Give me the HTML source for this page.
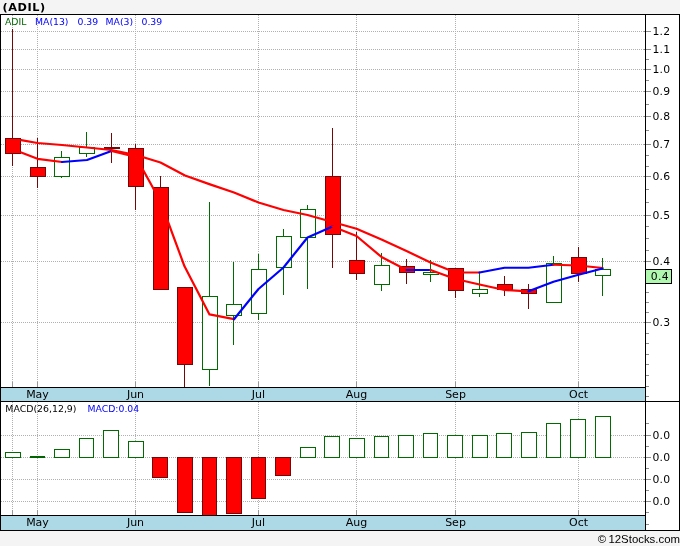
<!DOCTYPE html>
<html><head><meta charset="utf-8"><title>ADIL</title>
<style>html,body{margin:0;padding:0;background:#f4f4f4;}body{width:680px;height:546px;overflow:hidden}</style>
</head><body>
<svg width="680" height="546" viewBox="0 0 680 546" style="display:block">
<rect x="0" y="0" width="680" height="546" fill="#f4f4f4"/>
<rect x="0" y="14" width="680" height="517" fill="#000"/>
<rect x="1" y="15" width="678" height="515" fill="#fff"/>
<g shape-rendering="crispEdges">
<line x1="1" y1="31.5" x2="645" y2="31.5" stroke="#b0b0b0" stroke-width="1" stroke-dasharray="1 1"/>
<line x1="1" y1="49.5" x2="645" y2="49.5" stroke="#b0b0b0" stroke-width="1" stroke-dasharray="1 1"/>
<line x1="1" y1="69.5" x2="645" y2="69.5" stroke="#b0b0b0" stroke-width="1" stroke-dasharray="1 1"/>
<line x1="1" y1="91.5" x2="645" y2="91.5" stroke="#b0b0b0" stroke-width="1" stroke-dasharray="1 1"/>
<line x1="1" y1="116.5" x2="645" y2="116.5" stroke="#b0b0b0" stroke-width="1" stroke-dasharray="1 1"/>
<line x1="1" y1="144.5" x2="645" y2="144.5" stroke="#b0b0b0" stroke-width="1" stroke-dasharray="1 1"/>
<line x1="1" y1="176.5" x2="645" y2="176.5" stroke="#b0b0b0" stroke-width="1" stroke-dasharray="1 1"/>
<line x1="1" y1="215.5" x2="645" y2="215.5" stroke="#b0b0b0" stroke-width="1" stroke-dasharray="1 1"/>
<line x1="1" y1="261.5" x2="645" y2="261.5" stroke="#b0b0b0" stroke-width="1" stroke-dasharray="1 1"/>
<line x1="1" y1="322.5" x2="645" y2="322.5" stroke="#b0b0b0" stroke-width="1" stroke-dasharray="1 1"/>
<line x1="12.5" y1="15" x2="12.5" y2="387" stroke="#b0b0b0" stroke-width="1" stroke-dasharray="1 1"/>
<line x1="37.5" y1="15" x2="37.5" y2="387" stroke="#b0b0b0" stroke-width="1" stroke-dasharray="1 1"/>
<line x1="135.5" y1="15" x2="135.5" y2="387" stroke="#b0b0b0" stroke-width="1" stroke-dasharray="1 1"/>
<line x1="258.5" y1="15" x2="258.5" y2="387" stroke="#b0b0b0" stroke-width="1" stroke-dasharray="1 1"/>
<line x1="356.5" y1="15" x2="356.5" y2="387" stroke="#b0b0b0" stroke-width="1" stroke-dasharray="1 1"/>
<line x1="455.5" y1="15" x2="455.5" y2="387" stroke="#b0b0b0" stroke-width="1" stroke-dasharray="1 1"/>
<line x1="578.5" y1="15" x2="578.5" y2="387" stroke="#b0b0b0" stroke-width="1" stroke-dasharray="1 1"/>
<line x1="1" y1="435.5" x2="645" y2="435.5" stroke="#b0b0b0" stroke-width="1" stroke-dasharray="1 1"/>
<line x1="1" y1="457.5" x2="645" y2="457.5" stroke="#b0b0b0" stroke-width="1" stroke-dasharray="1 1"/>
<line x1="1" y1="479.5" x2="645" y2="479.5" stroke="#b0b0b0" stroke-width="1" stroke-dasharray="1 1"/>
<line x1="1" y1="501.5" x2="645" y2="501.5" stroke="#b0b0b0" stroke-width="1" stroke-dasharray="1 1"/>
<line x1="12.5" y1="402" x2="12.5" y2="515" stroke="#b0b0b0" stroke-width="1" stroke-dasharray="1 1"/>
<line x1="37.5" y1="402" x2="37.5" y2="515" stroke="#b0b0b0" stroke-width="1" stroke-dasharray="1 1"/>
<line x1="135.5" y1="402" x2="135.5" y2="515" stroke="#b0b0b0" stroke-width="1" stroke-dasharray="1 1"/>
<line x1="258.5" y1="402" x2="258.5" y2="515" stroke="#b0b0b0" stroke-width="1" stroke-dasharray="1 1"/>
<line x1="356.5" y1="402" x2="356.5" y2="515" stroke="#b0b0b0" stroke-width="1" stroke-dasharray="1 1"/>
<line x1="455.5" y1="402" x2="455.5" y2="515" stroke="#b0b0b0" stroke-width="1" stroke-dasharray="1 1"/>
<line x1="578.5" y1="402" x2="578.5" y2="515" stroke="#b0b0b0" stroke-width="1" stroke-dasharray="1 1"/>
<rect x="1" y="387" width="644" height="1" fill="#000"/>
<rect x="1" y="388" width="644" height="13" fill="#add8e6"/>
<rect x="1" y="401" width="678" height="1" fill="#000"/>
<rect x="1" y="515" width="644" height="1" fill="#000"/>
<rect x="1" y="516" width="644" height="14" fill="#add8e6"/>
<rect x="12" y="382" width="1" height="5" fill="#989898"/>
<rect x="12" y="510" width="1" height="5" fill="#989898"/>
<rect x="37" y="382" width="1" height="5" fill="#989898"/>
<rect x="37" y="510" width="1" height="5" fill="#989898"/>
<rect x="135" y="382" width="1" height="5" fill="#989898"/>
<rect x="135" y="510" width="1" height="5" fill="#989898"/>
<rect x="258" y="382" width="1" height="5" fill="#989898"/>
<rect x="258" y="510" width="1" height="5" fill="#989898"/>
<rect x="356" y="382" width="1" height="5" fill="#989898"/>
<rect x="356" y="510" width="1" height="5" fill="#989898"/>
<rect x="455" y="382" width="1" height="5" fill="#989898"/>
<rect x="455" y="510" width="1" height="5" fill="#989898"/>
<rect x="578" y="382" width="1" height="5" fill="#989898"/>
<rect x="578" y="510" width="1" height="5" fill="#989898"/>
<rect x="644" y="31" width="7" height="1" fill="#8c8c8c"/>
<rect x="644" y="49" width="7" height="1" fill="#8c8c8c"/>
<rect x="644" y="69" width="7" height="1" fill="#8c8c8c"/>
<rect x="644" y="91" width="7" height="1" fill="#8c8c8c"/>
<rect x="644" y="116" width="7" height="1" fill="#8c8c8c"/>
<rect x="644" y="144" width="7" height="1" fill="#8c8c8c"/>
<rect x="644" y="176" width="7" height="1" fill="#8c8c8c"/>
<rect x="644" y="215" width="7" height="1" fill="#8c8c8c"/>
<rect x="644" y="261" width="7" height="1" fill="#8c8c8c"/>
<rect x="644" y="322" width="7" height="1" fill="#8c8c8c"/>
<rect x="644" y="435" width="7" height="1" fill="#8c8c8c"/>
<rect x="644" y="457" width="7" height="1" fill="#8c8c8c"/>
<rect x="644" y="479" width="7" height="1" fill="#8c8c8c"/>
<rect x="644" y="501" width="7" height="1" fill="#8c8c8c"/>
<rect x="646" y="59" width="3" height="1" fill="#8c8c8c"/>
<rect x="646" y="80" width="3" height="1" fill="#8c8c8c"/>
<rect x="646" y="104" width="3" height="1" fill="#8c8c8c"/>
<rect x="646" y="130" width="3" height="1" fill="#8c8c8c"/>
<rect x="646" y="155" width="3" height="1" fill="#8c8c8c"/>
<rect x="646" y="166" width="3" height="1" fill="#8c8c8c"/>
<rect x="646" y="189" width="3" height="1" fill="#8c8c8c"/>
<rect x="646" y="202" width="3" height="1" fill="#8c8c8c"/>
<rect x="646" y="226" width="3" height="1" fill="#8c8c8c"/>
<rect x="646" y="238" width="3" height="1" fill="#8c8c8c"/>
<rect x="646" y="250" width="3" height="1" fill="#8c8c8c"/>
<rect x="646" y="292" width="3" height="1" fill="#8c8c8c"/>
<rect x="646" y="302" width="3" height="1" fill="#8c8c8c"/>
<rect x="646" y="312" width="3" height="1" fill="#8c8c8c"/>
<rect x="646" y="333" width="3" height="1" fill="#8c8c8c"/>
<rect x="646" y="343" width="3" height="1" fill="#8c8c8c"/>
<rect x="646" y="354" width="3" height="1" fill="#8c8c8c"/>
<rect x="646" y="364" width="3" height="1" fill="#8c8c8c"/>
<rect x="646" y="375" width="3" height="1" fill="#8c8c8c"/>
<rect x="646" y="386" width="3" height="1" fill="#8c8c8c"/>
<rect x="646" y="396" width="3" height="1" fill="#8c8c8c"/>
<rect x="646" y="423" width="3" height="1" fill="#8c8c8c"/>
<rect x="646" y="446" width="3" height="1" fill="#8c8c8c"/>
<rect x="646" y="468" width="3" height="1" fill="#8c8c8c"/>
<rect x="646" y="490" width="3" height="1" fill="#8c8c8c"/>
<rect x="646" y="512" width="3" height="1" fill="#8c8c8c"/>
<rect x="646" y="524" width="3" height="1" fill="#8c8c8c"/>
<rect x="645" y="15" width="1" height="515" fill="#000"/>
</g>
<g shape-rendering="crispEdges">
<rect x="12" y="29" width="1" height="137" fill="#720808"/>
<rect x="5" y="138" width="16" height="16" fill="#720808"/>
<rect x="6" y="139" width="14" height="14" fill="#ff0000"/>
<rect x="37" y="138" width="1" height="50" fill="#720808"/>
<rect x="30" y="167" width="16" height="10" fill="#720808"/>
<rect x="31" y="168" width="14" height="8" fill="#ff0000"/>
<rect x="61" y="151" width="1" height="27" fill="#006c00"/>
<rect x="54" y="157" width="16" height="20" fill="#006c00"/>
<rect x="55" y="158" width="14" height="18" fill="#fff"/>
<rect x="86" y="132" width="1" height="25" fill="#006c00"/>
<rect x="79" y="147" width="16" height="7" fill="#006c00"/>
<rect x="80" y="148" width="14" height="5" fill="#fff"/>
<rect x="111" y="133" width="1" height="30" fill="#720808"/>
<rect x="104" y="147" width="16" height="2" fill="#720808"/>
<rect x="135" y="144" width="1" height="66" fill="#720808"/>
<rect x="128" y="148" width="16" height="39" fill="#720808"/>
<rect x="129" y="149" width="14" height="37" fill="#ff0000"/>
<rect x="160" y="176" width="1" height="114" fill="#720808"/>
<rect x="153" y="187" width="16" height="103" fill="#720808"/>
<rect x="154" y="188" width="14" height="101" fill="#ff0000"/>
<rect x="184" y="287" width="1" height="100" fill="#720808"/>
<rect x="177" y="287" width="16" height="78" fill="#720808"/>
<rect x="178" y="288" width="14" height="76" fill="#ff0000"/>
<rect x="209" y="202" width="1" height="184" fill="#006c00"/>
<rect x="202" y="296" width="16" height="74" fill="#006c00"/>
<rect x="203" y="297" width="14" height="72" fill="#fff"/>
<rect x="233" y="262" width="1" height="83" fill="#006c00"/>
<rect x="226" y="304" width="16" height="12" fill="#006c00"/>
<rect x="227" y="305" width="14" height="10" fill="#fff"/>
<rect x="258" y="254" width="1" height="66" fill="#006c00"/>
<rect x="251" y="269" width="16" height="45" fill="#006c00"/>
<rect x="252" y="270" width="14" height="43" fill="#fff"/>
<rect x="283" y="229" width="1" height="66" fill="#006c00"/>
<rect x="276" y="236" width="16" height="32" fill="#006c00"/>
<rect x="277" y="237" width="14" height="30" fill="#fff"/>
<rect x="307" y="205" width="1" height="84" fill="#006c00"/>
<rect x="300" y="209" width="16" height="29" fill="#006c00"/>
<rect x="301" y="210" width="14" height="27" fill="#fff"/>
<rect x="332" y="128" width="1" height="140" fill="#720808"/>
<rect x="325" y="176" width="16" height="59" fill="#720808"/>
<rect x="326" y="177" width="14" height="57" fill="#ff0000"/>
<rect x="356" y="232" width="1" height="48" fill="#720808"/>
<rect x="349" y="260" width="16" height="14" fill="#720808"/>
<rect x="350" y="261" width="14" height="12" fill="#ff0000"/>
<rect x="381" y="253" width="1" height="38" fill="#006c00"/>
<rect x="374" y="265" width="16" height="20" fill="#006c00"/>
<rect x="375" y="266" width="14" height="18" fill="#fff"/>
<rect x="406" y="259" width="1" height="25" fill="#720808"/>
<rect x="399" y="266" width="16" height="7" fill="#720808"/>
<rect x="400" y="267" width="14" height="5" fill="#ff0000"/>
<rect x="430" y="260" width="1" height="22" fill="#006c00"/>
<rect x="423" y="272" width="16" height="3" fill="#006c00"/>
<rect x="424" y="273" width="14" height="1" fill="#fff"/>
<rect x="455" y="268" width="1" height="30" fill="#720808"/>
<rect x="448" y="268" width="16" height="23" fill="#720808"/>
<rect x="449" y="269" width="14" height="21" fill="#ff0000"/>
<rect x="479" y="272" width="1" height="25" fill="#006c00"/>
<rect x="472" y="289" width="16" height="5" fill="#006c00"/>
<rect x="473" y="290" width="14" height="3" fill="#fff"/>
<rect x="504" y="276" width="1" height="20" fill="#720808"/>
<rect x="497" y="284" width="16" height="6" fill="#720808"/>
<rect x="498" y="285" width="14" height="4" fill="#ff0000"/>
<rect x="528" y="284" width="1" height="25" fill="#720808"/>
<rect x="521" y="289" width="16" height="5" fill="#720808"/>
<rect x="522" y="290" width="14" height="3" fill="#ff0000"/>
<rect x="553" y="256" width="1" height="47" fill="#006c00"/>
<rect x="546" y="263" width="16" height="40" fill="#006c00"/>
<rect x="547" y="264" width="14" height="38" fill="#fff"/>
<rect x="578" y="247" width="1" height="35" fill="#720808"/>
<rect x="571" y="257" width="16" height="17" fill="#720808"/>
<rect x="572" y="258" width="14" height="15" fill="#ff0000"/>
<rect x="602" y="258" width="1" height="38" fill="#006c00"/>
<rect x="595" y="269" width="16" height="7" fill="#006c00"/>
<rect x="596" y="270" width="14" height="5" fill="#fff"/>
</g>
<polyline points="21.2,140.1 37.5,143 62,145 87,147.5 111.5,150 136,155 160.5,162.5 185,175.5 210,184.4 234,192.5 258.5,202.5 283.5,210 307.5,215 332.5,222 356.5,228.75 381.5,239.5 406.5,251 430.5,262.5 455.5,272.5 479.5,272.5" fill="none" stroke="#ff0000" stroke-width="2.2" stroke-linejoin="round" stroke-linecap="round"/>
<polyline points="479.5,272.5 504.5,267.75 528.5,267.75 553.5,264.75" fill="none" stroke="#0000ff" stroke-width="2.2" stroke-linejoin="round" stroke-linecap="round"/>
<polyline points="553.5,264.75 578.5,265.5 602.5,268" fill="none" stroke="#ff0000" stroke-width="2.2" stroke-linejoin="round" stroke-linecap="round"/>
<polyline points="21.2,152.5 37.5,158.8 62,162" fill="none" stroke="#ff0000" stroke-width="2.2" stroke-linejoin="round" stroke-linecap="round"/>
<polyline points="62,162 87,160 111.5,151" fill="none" stroke="#0000ff" stroke-width="2.2" stroke-linejoin="round" stroke-linecap="round"/>
<polyline points="111.5,151 136,157 160.5,201.5 184.5,266.3 209.5,314.4 234,319.2" fill="none" stroke="#ff0000" stroke-width="2.2" stroke-linejoin="round" stroke-linecap="round"/>
<polyline points="234,319.2 258.5,289 283.5,267.5 307.5,237.5 332.5,226.5" fill="none" stroke="#0000ff" stroke-width="2.2" stroke-linejoin="round" stroke-linecap="round"/>
<polyline points="332.5,226.5 356.5,236 381.5,257 406.5,270" fill="none" stroke="#ff0000" stroke-width="2.2" stroke-linejoin="round" stroke-linecap="round"/>
<polyline points="406.5,270 430.5,270" fill="none" stroke="#0000ff" stroke-width="2.2" stroke-linejoin="round" stroke-linecap="round"/>
<polyline points="430.5,270 455.5,279 479.5,284.5 504.5,290 528.5,291.3" fill="none" stroke="#ff0000" stroke-width="2.2" stroke-linejoin="round" stroke-linecap="round"/>
<polyline points="528.5,291.3 553.5,281.8 578.5,274.8 602.5,268.5" fill="none" stroke="#0000ff" stroke-width="2.2" stroke-linejoin="round" stroke-linecap="round"/>
<g shape-rendering="crispEdges">
<rect x="5" y="452" width="16" height="6" fill="#006c00"/>
<rect x="6" y="453" width="14" height="4" fill="#fff"/>
<rect x="30" y="456" width="15" height="2" fill="#006400"/>
<rect x="54" y="449" width="16" height="9" fill="#006c00"/>
<rect x="55" y="450" width="14" height="7" fill="#fff"/>
<rect x="79" y="438" width="15" height="20" fill="#006c00"/>
<rect x="80" y="439" width="13" height="18" fill="#fff"/>
<rect x="103" y="430" width="16" height="28" fill="#006c00"/>
<rect x="104" y="431" width="14" height="26" fill="#fff"/>
<rect x="128" y="441" width="16" height="17" fill="#006c00"/>
<rect x="129" y="442" width="14" height="15" fill="#fff"/>
<rect x="152" y="457" width="16" height="21" fill="#720808"/>
<rect x="153" y="458" width="14" height="19" fill="#ff0000"/>
<rect x="177" y="457" width="16" height="56" fill="#720808"/>
<rect x="178" y="458" width="14" height="54" fill="#ff0000"/>
<rect x="202" y="457" width="15" height="59" fill="#720808"/>
<rect x="203" y="458" width="13" height="57" fill="#ff0000"/>
<rect x="226" y="457" width="16" height="57" fill="#720808"/>
<rect x="227" y="458" width="14" height="55" fill="#ff0000"/>
<rect x="251" y="457" width="15" height="42" fill="#720808"/>
<rect x="252" y="458" width="13" height="40" fill="#ff0000"/>
<rect x="275" y="457" width="16" height="19" fill="#720808"/>
<rect x="276" y="458" width="14" height="17" fill="#ff0000"/>
<rect x="300" y="447" width="16" height="11" fill="#006c00"/>
<rect x="301" y="448" width="14" height="9" fill="#fff"/>
<rect x="324" y="436" width="16" height="22" fill="#006c00"/>
<rect x="325" y="437" width="14" height="20" fill="#fff"/>
<rect x="349" y="438" width="16" height="20" fill="#006c00"/>
<rect x="350" y="439" width="14" height="18" fill="#fff"/>
<rect x="374" y="436" width="15" height="22" fill="#006c00"/>
<rect x="375" y="437" width="13" height="20" fill="#fff"/>
<rect x="398" y="435" width="16" height="23" fill="#006c00"/>
<rect x="399" y="436" width="14" height="21" fill="#fff"/>
<rect x="423" y="433" width="15" height="25" fill="#006c00"/>
<rect x="424" y="434" width="13" height="23" fill="#fff"/>
<rect x="447" y="435" width="16" height="23" fill="#006c00"/>
<rect x="448" y="436" width="14" height="21" fill="#fff"/>
<rect x="472" y="435" width="16" height="23" fill="#006c00"/>
<rect x="473" y="436" width="14" height="21" fill="#fff"/>
<rect x="496" y="433" width="16" height="25" fill="#006c00"/>
<rect x="497" y="434" width="14" height="23" fill="#fff"/>
<rect x="521" y="432" width="16" height="26" fill="#006c00"/>
<rect x="522" y="433" width="14" height="24" fill="#fff"/>
<rect x="546" y="423" width="15" height="35" fill="#006c00"/>
<rect x="547" y="424" width="13" height="33" fill="#fff"/>
<rect x="570" y="419" width="16" height="39" fill="#006c00"/>
<rect x="571" y="420" width="14" height="37" fill="#fff"/>
<rect x="595" y="416" width="16" height="42" fill="#006c00"/>
<rect x="596" y="417" width="14" height="40" fill="#fff"/>
</g>
<g shape-rendering="crispEdges">
<rect x="1" y="515" width="644" height="1" fill="#000"/>
</g>
<g shape-rendering="crispEdges">
<rect x="645" y="269" width="27" height="15" fill="#000"/>
<rect x="646" y="270" width="25" height="13" fill="#b0f8b0"/>
</g>
<text x="2.6" y="11" font-size="11.3" fill="#000" text-anchor="start" font-family="DejaVu Sans, Liberation Sans, sans-serif" font-weight="bold" letter-spacing="0.55">(ADIL)</text>
<text x="5" y="25" font-size="9.3" fill="#006400" text-anchor="start" font-family="DejaVu Sans, Liberation Sans, sans-serif">ADIL</text>
<text x="35" y="25" font-size="9.3" fill="#0000ff" text-anchor="start" font-family="DejaVu Sans, Liberation Sans, sans-serif">MA(13)</text>
<text x="77.5" y="25" font-size="9.3" fill="#0000ff" text-anchor="start" font-family="DejaVu Sans, Liberation Sans, sans-serif">0.39</text>
<text x="105.5" y="25" font-size="9.3" fill="#0000ff" text-anchor="start" font-family="DejaVu Sans, Liberation Sans, sans-serif">MA(3)</text>
<text x="141.5" y="25" font-size="9.3" fill="#0000ff" text-anchor="start" font-family="DejaVu Sans, Liberation Sans, sans-serif">0.39</text>
<text x="5.3" y="412" font-size="9.4" fill="#000" text-anchor="start" font-family="DejaVu Sans, Liberation Sans, sans-serif">MACD(26,12,9)</text>
<text x="87.5" y="412" font-size="9.3" fill="#0000ff" text-anchor="start" font-family="DejaVu Sans, Liberation Sans, sans-serif">MACD:0.04</text>
<text x="652.4" y="35" font-size="10.8" fill="#000" text-anchor="start" font-family="DejaVu Sans, Liberation Sans, sans-serif" letter-spacing="0.3">1.2</text>
<text x="652.4" y="53" font-size="10.8" fill="#000" text-anchor="start" font-family="DejaVu Sans, Liberation Sans, sans-serif" letter-spacing="0.3">1.1</text>
<text x="652.4" y="73" font-size="10.8" fill="#000" text-anchor="start" font-family="DejaVu Sans, Liberation Sans, sans-serif" letter-spacing="0.3">1.0</text>
<text x="652.4" y="95" font-size="10.8" fill="#000" text-anchor="start" font-family="DejaVu Sans, Liberation Sans, sans-serif" letter-spacing="0.3">0.9</text>
<text x="652.4" y="120" font-size="10.8" fill="#000" text-anchor="start" font-family="DejaVu Sans, Liberation Sans, sans-serif" letter-spacing="0.3">0.8</text>
<text x="652.4" y="148" font-size="10.8" fill="#000" text-anchor="start" font-family="DejaVu Sans, Liberation Sans, sans-serif" letter-spacing="0.3">0.7</text>
<text x="652.4" y="180" font-size="10.8" fill="#000" text-anchor="start" font-family="DejaVu Sans, Liberation Sans, sans-serif" letter-spacing="0.3">0.6</text>
<text x="652.4" y="219" font-size="10.8" fill="#000" text-anchor="start" font-family="DejaVu Sans, Liberation Sans, sans-serif" letter-spacing="0.3">0.5</text>
<text x="652.4" y="265" font-size="10.8" fill="#000" text-anchor="start" font-family="DejaVu Sans, Liberation Sans, sans-serif" letter-spacing="0.3">0.4</text>
<text x="652.4" y="326" font-size="10.8" fill="#000" text-anchor="start" font-family="DejaVu Sans, Liberation Sans, sans-serif" letter-spacing="0.3">0.3</text>
<text x="652.4" y="439" font-size="10.8" fill="#000" text-anchor="start" font-family="DejaVu Sans, Liberation Sans, sans-serif" letter-spacing="0.3">0.0</text>
<text x="652.4" y="461" font-size="10.8" fill="#000" text-anchor="start" font-family="DejaVu Sans, Liberation Sans, sans-serif" letter-spacing="0.3">0.0</text>
<text x="652.4" y="483" font-size="10.8" fill="#000" text-anchor="start" font-family="DejaVu Sans, Liberation Sans, sans-serif" letter-spacing="0.3">0.0</text>
<text x="652.4" y="505" font-size="10.8" fill="#000" text-anchor="start" font-family="DejaVu Sans, Liberation Sans, sans-serif" letter-spacing="0.3">0.0</text>
<text x="650.8" y="280" font-size="10.8" fill="#000" text-anchor="start" font-family="DejaVu Sans, Liberation Sans, sans-serif" letter-spacing="0.3">0.4</text>
<text x="37.5" y="398" font-size="11" fill="#000" text-anchor="middle" font-family="DejaVu Sans, Liberation Sans, sans-serif">May</text>
<text x="37.5" y="526" font-size="11" fill="#000" text-anchor="middle" font-family="DejaVu Sans, Liberation Sans, sans-serif">May</text>
<text x="135.5" y="398" font-size="11" fill="#000" text-anchor="middle" font-family="DejaVu Sans, Liberation Sans, sans-serif">Jun</text>
<text x="135.5" y="526" font-size="11" fill="#000" text-anchor="middle" font-family="DejaVu Sans, Liberation Sans, sans-serif">Jun</text>
<text x="258.5" y="398" font-size="11" fill="#000" text-anchor="middle" font-family="DejaVu Sans, Liberation Sans, sans-serif">Jul</text>
<text x="258.5" y="526" font-size="11" fill="#000" text-anchor="middle" font-family="DejaVu Sans, Liberation Sans, sans-serif">Jul</text>
<text x="356.5" y="398" font-size="11" fill="#000" text-anchor="middle" font-family="DejaVu Sans, Liberation Sans, sans-serif">Aug</text>
<text x="356.5" y="526" font-size="11" fill="#000" text-anchor="middle" font-family="DejaVu Sans, Liberation Sans, sans-serif">Aug</text>
<text x="455.5" y="398" font-size="11" fill="#000" text-anchor="middle" font-family="DejaVu Sans, Liberation Sans, sans-serif">Sep</text>
<text x="455.5" y="526" font-size="11" fill="#000" text-anchor="middle" font-family="DejaVu Sans, Liberation Sans, sans-serif">Sep</text>
<text x="578.5" y="398" font-size="11" fill="#000" text-anchor="middle" font-family="DejaVu Sans, Liberation Sans, sans-serif">Oct</text>
<text x="578.5" y="526" font-size="11" fill="#000" text-anchor="middle" font-family="DejaVu Sans, Liberation Sans, sans-serif">Oct</text>
<text x="680" y="542.6" font-size="11.4" fill="#000" text-anchor="end" font-family="Liberation Sans, sans-serif"><tspan>©</tspan><tspan dx="2.4">12Stocks.com</tspan></text>
</svg>
</body></html>
